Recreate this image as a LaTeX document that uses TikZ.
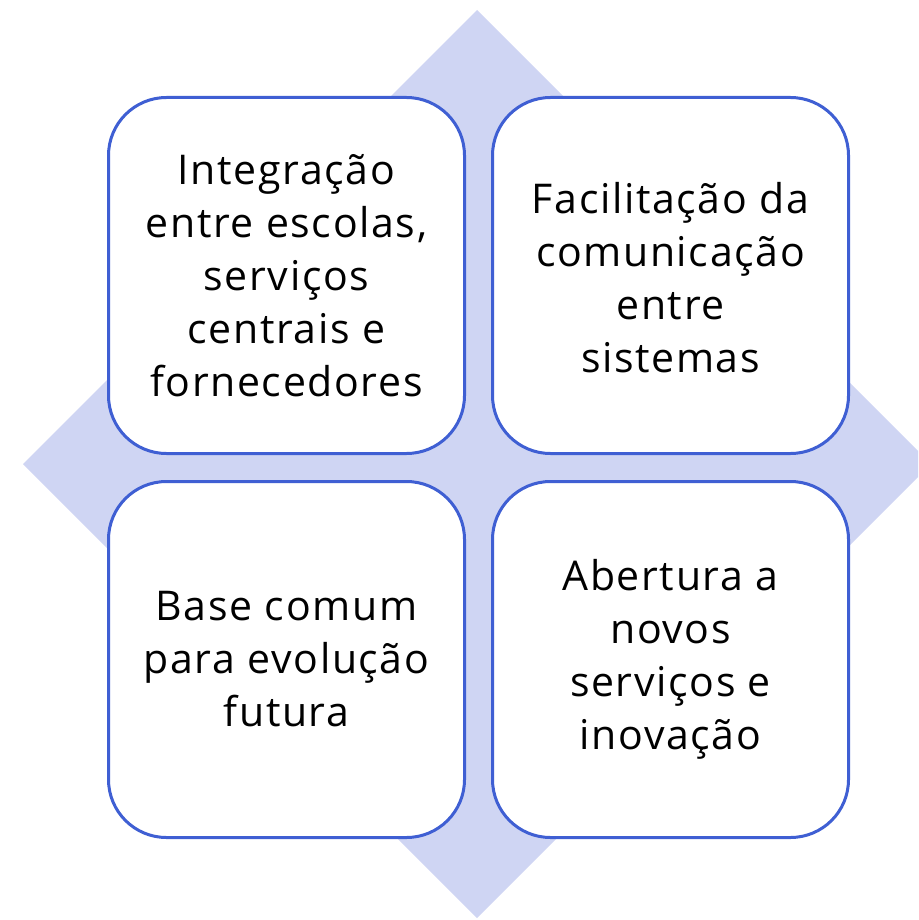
\documentclass[tikz,border=0pt]{standalone}
\usepackage{fontspec}
\setmainfont[LetterSpace=4]{Open Sans}
\definecolor{diamondfill}{HTML}{CFD5F3}
\definecolor{boxline}{HTML}{3F5FD3}
\begin{document}
\begin{tikzpicture}[x=1pt,y=-1pt,
  card/.style={draw=boxline, line width=3pt, fill=white, rounded corners=58pt,
    minimum width=356pt, minimum height=356pt, anchor=north west, inner sep=0pt},
  cardtext/.style={align=center, font=\fontsize{41}{53}\selectfont, text=black}]
\useasboundingbox (0,0) rectangle (918,920);
\clip (0,0) rectangle (918,920);
\fill[diamondfill] (477,10) -- (931,464) -- (477,918) -- (23,464) -- cycle;
\node[card] (a) at (107,96) {};
\node[card] (b) at (491,96) {};
\node[card] (c) at (107,480) {};
\node[card] (d) at (491,480) {};
\node[cardtext] (ta) at (a.center) {Integração\\entre escolas,\\serviços\\centrais e\\fornecedores};
\node[cardtext] (tb) at ([yshift=-2pt]b.center) {Facilitação da\\comunicação\\entre\\sistemas};
\node[cardtext] (tc) at (c.center) {Base comum\\para evolução\\futura};
\node[cardtext] (td) at (d.center) {Abertura a\\novos\\serviços e\\inovação};
\end{tikzpicture}
\end{document}
